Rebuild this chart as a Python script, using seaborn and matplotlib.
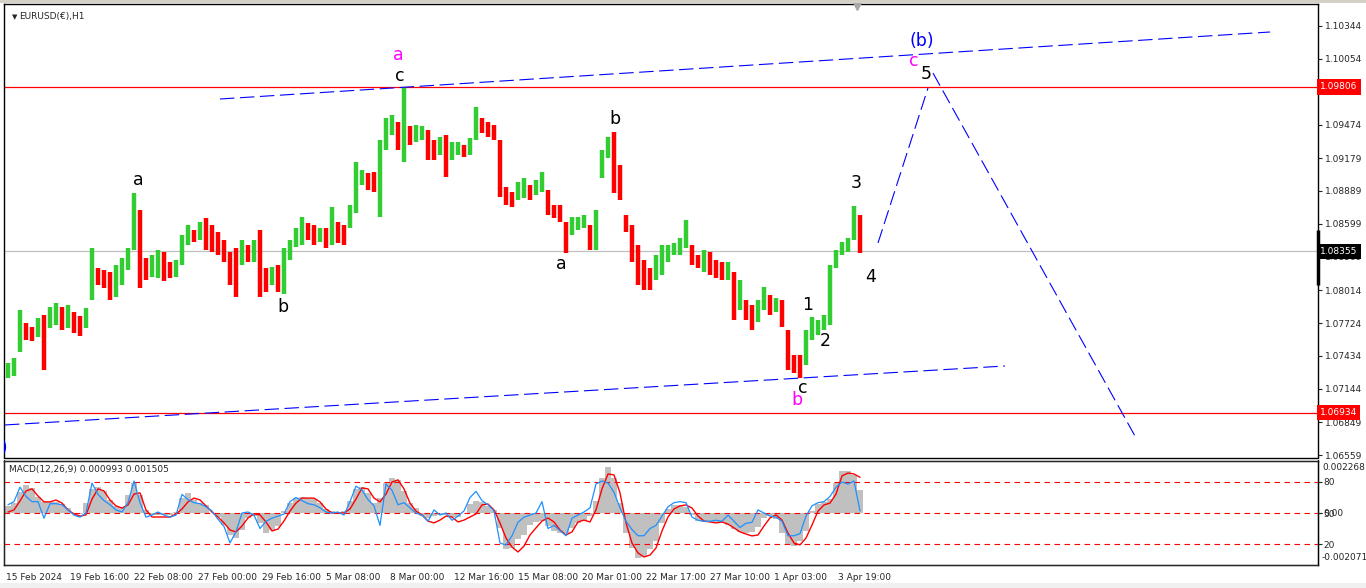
import numpy as np
import matplotlib
matplotlib.use("Agg")
import matplotlib.pyplot as plt
import matplotlib.transforms as mtransforms
from matplotlib.patches import Rectangle
import seaborn as sns

sns.set_style("white")
plt.rcParams['font.family'] = ['DejaVu Sans']

# EURUSD H1, grouped in blocks of 6 hourly bars
BAR_STEP = 6
high = [1.07371, 1.07415, 1.07839, 1.07724, 1.07689, 1.07768, 1.07795, 1.07865, 1.07901, 1.07865,
        1.07883, 1.07821, 1.07786, 1.07856, 1.08386, 1.08209, 1.08192, 1.08174, 1.08236, 1.08297,
        1.08386, 1.08871, 1.08721, 1.08297, 1.08324, 1.08368, 1.08350, 1.08262, 1.08280, 1.08500,
        1.08588, 1.08544, 1.08615, 1.08650, 1.08588, 1.08527, 1.08456, 1.08350, 1.08386, 1.08456,
        1.08412, 1.08456, 1.08544, 1.08209, 1.08218, 1.08236, 1.08386, 1.08456, 1.08562, 1.08659,
        1.08606, 1.08588, 1.08562, 1.08562, 1.08747, 1.08615, 1.08588, 1.08765, 1.09144, 1.09074,
        1.09047, 1.09056, 1.09338, 1.09532, 1.09559, 1.09497, 1.09806, 1.09462, 1.09470, 1.09462,
        1.09426, 1.09338, 1.09365, 1.09382, 1.09321, 1.09321, 1.09294, 1.09356, 1.09629, 1.09532,
        1.09497, 1.09470, 1.09338, 1.08924, 1.08880, 1.08968, 1.09003, 1.08941, 1.08985, 1.09056,
        1.08897, 1.08765, 1.08765, 1.08615, 1.08659, 1.08659, 1.08677, 1.08588, 1.08721, 1.09250,
        1.09365, 1.09409, 1.09118, 1.08677, 1.08588, 1.08412, 1.08280, 1.08209, 1.08324, 1.08412,
        1.08412, 1.08430, 1.08474, 1.08633, 1.08412, 1.08324, 1.08368, 1.08350, 1.08280, 1.08262,
        1.08262, 1.08174, 1.08103, 1.07927, 1.07883, 1.07927, 1.08042, 1.07971, 1.07945, 1.07927,
        1.07662, 1.07442, 1.07442, 1.07662, 1.07777, 1.07751, 1.07795, 1.08236, 1.08368, 1.08439,
        1.08474, 1.08756, 1.08677]
low = [1.07239, 1.07257, 1.07468, 1.07574, 1.07565, 1.07601, 1.07310, 1.07680, 1.07706, 1.07662,
       1.07680, 1.07636, 1.07609, 1.07680, 1.07927, 1.08059, 1.08033, 1.07927, 1.07953, 1.08059,
       1.08192, 1.08368, 1.08033, 1.08103, 1.08130, 1.08121, 1.08095, 1.08121, 1.08130, 1.08236,
       1.08412, 1.08439, 1.08456, 1.08368, 1.08350, 1.08324, 1.08262, 1.08059, 1.07953, 1.08236,
       1.08262, 1.08262, 1.07953, 1.07998, 1.08059, 1.07998, 1.07980, 1.08280, 1.08394, 1.08412,
       1.08456, 1.08412, 1.08439, 1.08386, 1.08412, 1.08430, 1.08412, 1.08562, 1.08694, 1.08941,
       1.08897, 1.08880, 1.08659, 1.09250, 1.09382, 1.09250, 1.09144, 1.09294, 1.09321, 1.09338,
       1.09162, 1.09162, 1.09206, 1.09012, 1.09162, 1.09206, 1.09188, 1.09206, 1.09338, 1.09400,
       1.09365, 1.09338, 1.08835, 1.08765, 1.08747, 1.08809, 1.08827, 1.08809, 1.08853, 1.08880,
       1.08677, 1.08650, 1.08615, 1.08342, 1.08500, 1.08544, 1.08562, 1.08368, 1.08368, 1.09003,
       1.09179, 1.08871, 1.08809, 1.08527, 1.08262, 1.08059, 1.08015, 1.08015, 1.08103, 1.08147,
       1.08262, 1.08324, 1.08324, 1.08386, 1.08236, 1.08209, 1.08174, 1.08147, 1.08121, 1.08103,
       1.08103, 1.07751, 1.07839, 1.07751, 1.07662, 1.07733, 1.07839, 1.07795, 1.07821, 1.07689,
       1.07310, 1.07283, 1.07239, 1.07354, 1.07574, 1.07618, 1.07662, 1.07706, 1.08209, 1.08324,
       1.08350, 1.08456, 1.08342]

macd_hist = [0.00030, 0.00042, 0.00089, 0.00118, 0.00106, 0.00068, 0.00047, 0.00047, 0.00047, 0.00038,
             0.00021, 0.00000, -0.00004, 0.00042, 0.00102, 0.00110, 0.00093, 0.00055, 0.00030, 0.00025,
             0.00076, 0.00127, 0.00076, 0.00013, -0.00008, -0.00008, -0.00008, -0.00008, 0.00004, 0.00063,
             0.00085, 0.00055, 0.00042, 0.00034, 0.00000, -0.00017, -0.00051, -0.00093, -0.00106, -0.00072,
             -0.00021, -0.00013, -0.00042, -0.00085, -0.00072, -0.00055, 0.00008, 0.00042, 0.00063, 0.00068,
             0.00063, 0.00059, 0.00042, 0.00017, 0.00008, 0.00000, 0.00008, 0.00051, 0.00102, 0.00110,
             0.00085, 0.00042, 0.00063, 0.00127, 0.00148, 0.00140, 0.00093, 0.00042, 0.00021, -0.00013,
             -0.00021, -0.00013, -0.00008, -0.00008, -0.00017, -0.00017, 0.00000, 0.00038, 0.00051, 0.00047,
             0.00030, 0.00013, -0.00063, -0.00152, -0.00148, -0.00110, -0.00093, -0.00051, -0.00038, -0.00034,
             -0.00055, -0.00076, -0.00085, -0.00085, -0.00063, -0.00042, -0.00034, -0.00013, 0.00051, 0.00148,
             0.00195, 0.00148, 0.00042, -0.00085, -0.00148, -0.00190, -0.00186, -0.00152, -0.00118, -0.00042,
             0.00017, 0.00034, 0.00034, 0.00025, -0.00008, -0.00034, -0.00038, -0.00038, -0.00038, -0.00042,
             -0.00051, -0.00068, -0.00080, -0.00085, -0.00080, -0.00059, -0.00021, -0.00013, -0.00025, -0.00085,
             -0.00135, -0.00140, -0.00118, -0.00076, 0.00008, 0.00038, 0.00047, 0.00059, 0.00127, 0.00178,
             0.00178, 0.00161, 0.00099]
macd_signal = [0.00004, 0.00013, 0.00051, 0.00093, 0.00102, 0.00072, 0.00047, 0.00047, 0.00055, 0.00042,
               0.00013, -0.00004, -0.00013, -0.00008, 0.00059, 0.00102, 0.00093, 0.00055, 0.00030, 0.00021,
               0.00034, 0.00080, 0.00085, 0.00013, -0.00017, -0.00017, -0.00017, -0.00017, -0.00004, 0.00017,
               0.00047, 0.00063, 0.00055, 0.00030, 0.00004, -0.00017, -0.00042, -0.00072, -0.00080, -0.00055,
               -0.00021, -0.00004, -0.00008, -0.00038, -0.00076, -0.00068, -0.00034, 0.00008, 0.00042, 0.00063,
               0.00063, 0.00063, 0.00047, 0.00017, 0.00000, 0.00000, 0.00000, 0.00017, 0.00059, 0.00106,
               0.00102, 0.00063, 0.00047, 0.00080, 0.00131, 0.00140, 0.00102, 0.00042, 0.00008, -0.00008,
               -0.00034, -0.00042, -0.00030, -0.00013, -0.00017, -0.00038, -0.00030, -0.00017, -0.00004, 0.00034,
               0.00038, 0.00013, -0.00042, -0.00106, -0.00144, -0.00165, -0.00140, -0.00093, -0.00063, -0.00034,
               -0.00021, -0.00038, -0.00072, -0.00093, -0.00080, -0.00038, -0.00030, -0.00038, 0.00013, 0.00102,
               0.00165, 0.00161, 0.00085, -0.00042, -0.00127, -0.00169, -0.00186, -0.00178, -0.00148, -0.00076,
               -0.00017, 0.00017, 0.00030, 0.00034, 0.00021, -0.00013, -0.00034, -0.00038, -0.00042, -0.00038,
               -0.00047, -0.00063, -0.00080, -0.00089, -0.00097, -0.00093, -0.00055, -0.00021, -0.00008, -0.00030,
               -0.00085, -0.00127, -0.00135, -0.00106, -0.00051, 0.00008, 0.00034, 0.00042, 0.00080, 0.00157,
               0.00169, 0.00165, 0.00151]
oscillator = [58, 61, 75, 66, 61, 61, 45, 59, 59, 58, 53, 48, 46, 50, 79, 68, 62, 58, 53, 51,
              60, 81, 60, 46, 48, 51, 48, 46, 48, 68, 63, 60, 59, 56, 52, 44, 37, 21, 32, 50,
              51, 48, 35, 42, 45, 47, 49, 61, 65, 62, 59, 58, 55, 51, 50, 51, 48, 61, 76, 72,
              63, 57, 38, 78, 72, 58, 60, 55, 50, 48, 42, 53, 48, 50, 43, 47, 52, 65, 71, 62,
              58, 52, 21, 19, 28, 41, 46, 48, 50, 61, 35, 38, 33, 28, 45, 48, 51, 55, 78, 81,
              79, 70, 55, 42, 34, 28, 28, 35, 38, 47, 56, 60, 61, 60, 46, 43, 42, 42, 43, 42,
              48, 42, 36, 40, 41, 53, 50, 47, 46, 42, 28, 28, 30, 47, 57, 60, 61, 66, 75, 80,
              78, 81, 52]

date_labels = ["15 Feb 2024", "19 Feb 16:00", "22 Feb 08:00", "27 Feb 00:00", "29 Feb 16:00",
               "5 Mar 08:00", "8 Mar 00:00", "12 Mar 16:00", "15 Mar 08:00", "20 Mar 01:00",
               "22 Mar 17:00", "27 Mar 10:00", "1 Apr 03:00", "3 Apr 19:00"]
LABEL_EVERY = 64  # hourly bars between date labels
price_ticks = [1.10344, 1.10054, 1.09764, 1.09474, 1.09179, 1.08889, 1.08599, 1.08309,
               1.08014, 1.07724, 1.07434, 1.07144, 1.06849, 1.06559]

levels_red = [1.09806, 1.06934]
bid = 1.08355

# trend / projection lines: (bar0, price0, bar1, price1)
wave_lines = [(215, 1.09700, 1265, 1.10291),
              (0, 1.06825, 1000, 1.07345),
              (873, 1.08430, 923, 1.09797),
              (928, 1.09929, 1130, 1.06727)]
# Elliott wave labels: (text, bar, price, colour)
wave_labels = [("a", 393, 1.10088, "#FF00FF"), ("c", 395, 1.09903, "black"),
               ("a", 133, 1.08985, "black"), ("b", 278, 1.07865, "black"),
               ("b", 610, 1.09523, "black"), ("a", 556, 1.08245, "black"),
               ("c", 798, 1.07151, "black"), ("b", 792, 1.07045, "#FF00FF"),
               ("1", 803, 1.07883, "black"), ("2", 820, 1.07565, "black"),
               ("3", 851, 1.08959, "black"), ("4", 866, 1.08130, "black"),
               ("5", 921, 1.09920, "black"), ("c", 909, 1.10035, "#FF00FF"),
               ("(b)", 917, 1.10211, "#0000FF")]

W, H = 1366, 588
fig = plt.figure(figsize=(W / 100, H / 100), dpi=100)
fig.patch.set_facecolor("white")
fig.patches.append(Rectangle((0, 1 - 3 / H), 1, 3 / H, transform=fig.transFigure,
                             facecolor="#D4D0C8", edgecolor="none"))
fig.patches.append(Rectangle((0, 0), 1, 5 / H, transform=fig.transFigure,
                             facecolor="#F0F0F0", edgecolor="none"))

ax_p = fig.add_axes([4 / W, (H - 457.5) / H, 1314 / W, 453.5 / H])
ax_m = fig.add_axes([4 / W, (H - 565) / H, 1314 / W, 104.5 / H])
ax_o = ax_m.twinx()

xmax = 1313
for ax in (ax_p, ax_m):
    ax.set_xlim(-1, xmax)
    for s in ax.spines.values():
        s.set_color("black")
        s.set_linewidth(1.0)

# ---- price panel
xc = np.arange(len(high)) * BAR_STEP + BAR_STEP / 2
mid = (np.array(high) + np.array(low)) / 2
up = np.r_[True, mid[1:] >= mid[:-1]]
up[-1] = False
colors = np.where(up, "#32CD32", "#FF0000")
ax_p.vlines(xc, low, high, colors=colors, linewidth=3.2, zorder=3)

ax_p.axhline(bid, color="#C0C0C0", lw=0.9, zorder=1)
for lv in levels_red:
    ax_p.axhline(lv, color="#FF0000", lw=0.9, zorder=2)
for b0, p0, b1, p1 in wave_lines:
    ax_p.plot([b0, b1], [p0, p1], color="#0000FF", lw=0.8, dashes=(13, 5), zorder=4)
for txt, b, p, c in wave_labels:
    ax_p.text(b, p, txt, color=c, fontsize=12.5, ha="center", va="center", zorder=6)
ax_p.text(3, 1.06622, "(b)", color="#0000FF", fontsize=12.5, ha="right", va="center",
          clip_on=True, zorder=6)

ax_p.set_ylim(1.06538, 1.10538)
ax_p.set_xticks([])
ax_p.yaxis.tick_right()
ax_p.set_yticks(price_ticks)
ax_p.set_yticklabels([f"{t:.5f}" for t in price_ticks])
ax_p.tick_params(axis="y", direction="out", length=3, width=0.8, pad=2, labelsize=6.5)
ax_p.set_ylabel("")

trans_p = mtransforms.blended_transform_factory(ax_p.transAxes, ax_p.transData)
for lv in levels_red:
    ax_p.text(1.0015, lv, f"{lv:.5f}", transform=trans_p, ha="left", va="center", fontsize=6.5,
              color="white", clip_on=False, zorder=10,
              bbox=dict(boxstyle="square,pad=0.35", facecolor="#FF0000", edgecolor="none"))
ax_p.text(1.0015, bid, f"{bid:.5f}", transform=trans_p, ha="left", va="center", fontsize=6.5,
          color="white", clip_on=False, zorder=10,
          bbox=dict(boxstyle="square,pad=0.35", facecolor="black", edgecolor="none"))
ax_p.plot([1.0, 1.0], [1.08059, 1.08544], transform=trans_p, color="black", lw=2.5,
          clip_on=False, zorder=9, solid_capstyle="butt")
ax_p.plot([852], [1.10520], marker="v", color="#A8A8A8", ms=6, clip_on=False, zorder=9)

ax_p.text(0.006, 0.972, "\u25BC", transform=ax_p.transAxes, fontsize=5, va="center", ha="left")
ax_p.text(0.0115, 0.972, "EURUSD(\u20AC),H1", transform=ax_p.transAxes, fontsize=6.5,
          va="center", ha="left")

# ---- MACD panel
ax_m.bar(xc, macd_hist, width=BAR_STEP, color="#C0C0C0", linewidth=0, zorder=1)
sns.lineplot(x=xc, y=macd_signal, ax=ax_m, color="#FF0000", lw=1.0, zorder=3)
sns.lineplot(x=xc, y=oscillator, ax=ax_o, color="#1E90FF", lw=0.9, zorder=4)
for lv in (80, 50, 20):
    ax_o.axhline(lv, color="#FF0000", lw=0.8, dashes=(5, 4), zorder=2)

ax_m.set_ylim(-0.00220, 0.00222)
ax_o.set_ylim(-0.3, 100.8)
ax_m.set_yticks([0])
ax_m.set_yticklabels(["0.00"])
ax_m.yaxis.tick_right()
ax_o.set_yticks([20, 50, 80])
ax_o.set_yticklabels(["20", "50", "80"])
for ax in (ax_m, ax_o):
    ax.tick_params(axis="y", direction="out", length=3, width=0.8, pad=1, labelsize=6.5)
    ax.set_ylabel("")
ax_o.spines["right"].set_color("black")
ax_m.text(1.003, 0.93, "0.002268", transform=ax_m.transAxes, fontsize=6.5, va="center", ha="left")
ax_m.text(1.003, 0.07, "-0.002071", transform=ax_m.transAxes, fontsize=6.5, va="center", ha="left")
ax_m.text(0.004, 0.915, "MACD(12,26,9) 0.000993 0.001505", transform=ax_m.transAxes,
          fontsize=6.5, va="center", ha="left", zorder=6)

ticks = np.arange(len(date_labels)) * LABEL_EVERY
ax_m.set_xticks(ticks)
ax_m.set_xticklabels(date_labels, ha="left")
ax_m.tick_params(axis="x", direction="out", length=4, width=0.8, pad=2, labelsize=6.5)
offset = mtransforms.ScaledTranslation(1 / 100, 0, fig.dpi_scale_trans)
for lab in ax_m.get_xticklabels():
    lab.set_transform(lab.get_transform() + offset)
ax_m.set_xlabel("")
ax_o.set_xlabel("")

fig.savefig("out.png", dpi=100, facecolor="white")
